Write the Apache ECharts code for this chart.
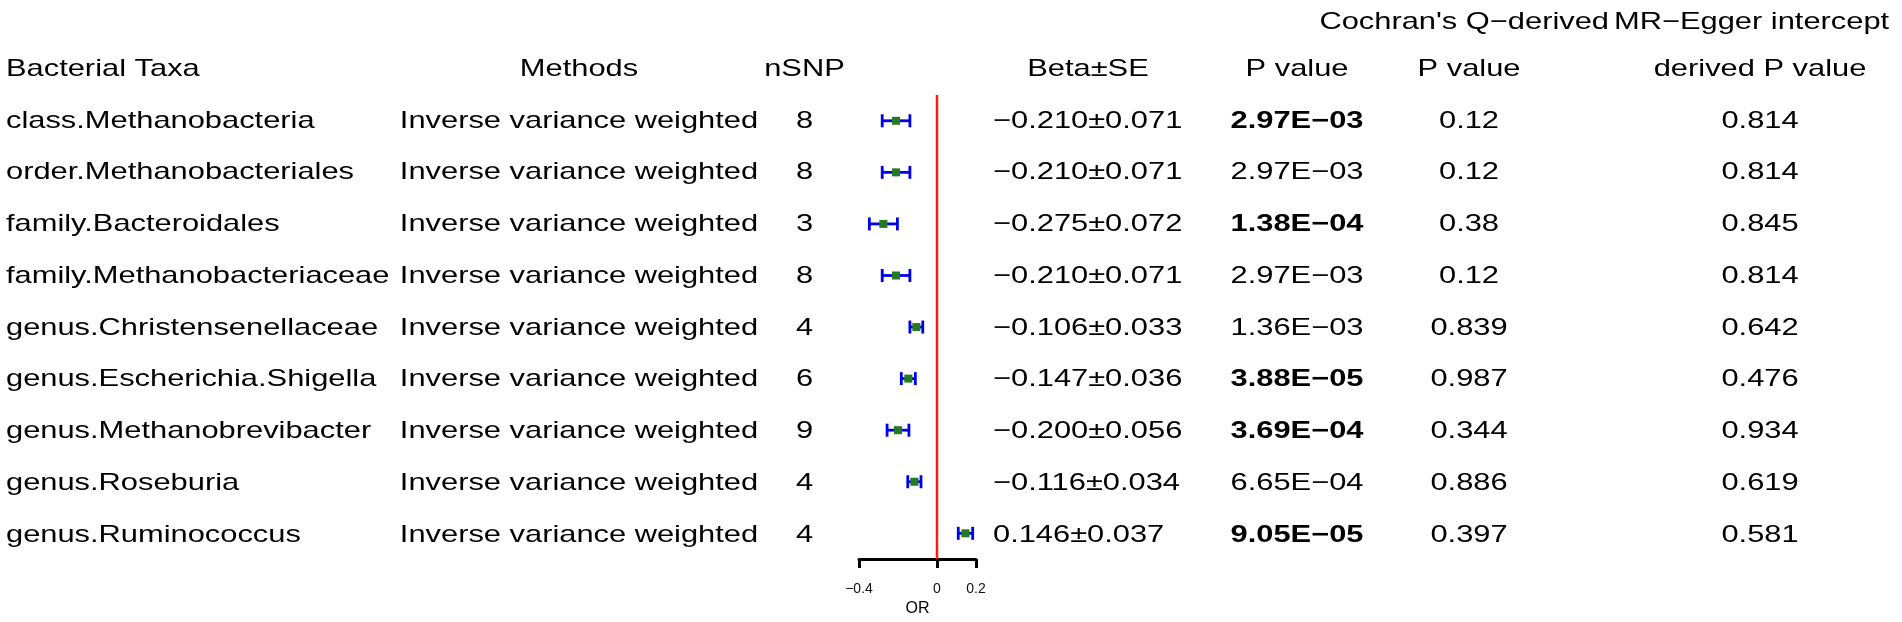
<!DOCTYPE html>
<html>
<head>
<meta charset="utf-8">
<script src="https://cdn.jsdelivr.net/npm/echarts@6/dist/echarts.min.js"></script>
<style>
  html, body { margin: 0; padding: 0; background: #fff; }
  #chart { width: 1902px; height: 622px; }
</style>
</head>
<body>
<div id="chart"></div>
<script>
// ---- data ----
const taxa = [
  "class.Methanobacteria",
  "order.Methanobacteriales",
  "family.Bacteroidales",
  "family.Methanobacteriaceae",
  "genus.Christensenellaceae",
  "genus.Escherichia.Shigella",
  "genus.Methanobrevibacter",
  "genus.Roseburia",
  "genus.Ruminococcus",
];
const methods = taxa.map(() => "Inverse variance weighted");
const nSnp = [8, 8, 3, 8, 4, 6, 9, 4, 4];
const beta = [-0.210, -0.210, -0.275, -0.210, -0.106, -0.147, -0.200, -0.116, 0.146];
const se = [0.071, 0.071, 0.072, 0.071, 0.033, 0.036, 0.056, 0.034, 0.037];
const pValue = ["2.97E−03", "2.97E−03", "1.38E−04", "2.97E−03", "1.36E−03", "3.88E−05", "3.69E−04", "6.65E−04", "9.05E−05"];
const pBold = [true, false, true, false, false, true, true, false, true];
const cochranP = ["0.12", "0.12", "0.38", "0.12", "0.839", "0.987", "0.344", "0.886", "0.397"];
const eggerP = ["0.814", "0.814", "0.845", "0.814", "0.642", "0.476", "0.934", "0.619", "0.581"];

const headers = ["Bacterial Taxa", "Methods", "nSNP", "Beta±SE", "P value", "P value", "derived P value"];
const superHeaders = ["Cochran's Q−derived", "MR−Egger intercept"];
const orTicks = [-0.4, 0, 0.2];
const refLine = 0;

// ---- layout ----
const FONT = "'Liberation Sans', Arial, sans-serif";
const FS = 24;
const SX = 1.285;   // text in the figure is stretched horizontally
const ROW_TOP = 95, ROW_H = 466;

// column anchors in table pixel units: [x, align]
const cols = {
  taxa: [6, "left"],
  method: [579, "center"],
  nsnp: [804.5, "center"],
  beta: [993, "left"],
  betaHead: [1088, "center"],
  pval: [1297, "center"],
  cochran: [1469, "center"],
  egger: [1760, "center"],
};
const headerCols = ["taxa", "method", "nsnp", "betaHead", "pval", "cochran", "egger"];
const superCols = [[1609, "right"], [1614, "left"]];
const SUPER_ROW = -1.91, HEAD_ROW = -1;

const fmt = (v) => (v < 0 ? "−" : "") + Math.abs(v).toFixed(3);
const betaText = beta.map((b, i) => fmt(b) + "±" + se[i].toFixed(3));

function textCell(p, text, align, bold) {
  return {
    type: "text",
    x: p[0],
    y: p[1],
    scaleX: SX,
    style: {
      text: text,
      fontFamily: FONT,
      fontSize: FS,
      fontWeight: bold ? "bold" : "normal",
      fill: "#000",
      align: align,
      verticalAlign: "middle",
    },
  };
}

function textColumn(key, values, bold) {
  const [x, align] = cols[key];
  return {
    type: "custom",
    xAxisIndex: 0,
    yAxisIndex: 0,
    clip: false,
    silent: true,
    data: values.map((v, i) => [x, i]),
    renderItem: (params, api) => {
      const i = params.dataIndex;
      const p = api.coord([api.value(0), api.value(1)]);
      return textCell(p, String(values[i]), align, bold ? bold[i] : false);
    },
  };
}

const headerCells = headerCols.map((k, i) => ({ x: cols[k][0], row: HEAD_ROW, text: headers[i], align: cols[k][1] }))
  .concat(superHeaders.map((t, i) => ({ x: superCols[i][0], row: SUPER_ROW, text: t, align: superCols[i][1] })));

const chart = echarts.init(document.getElementById("chart"));

chart.setOption({
  animation: false,
  backgroundColor: "#fff",
  grid: [
    { left: 0, right: 0, top: ROW_TOP, height: ROW_H },
    { left: 859, width: 117, top: ROW_TOP, height: ROW_H },
  ],
  xAxis: [
    { gridIndex: 0, type: "value", min: 0, max: 1902, show: false },
    {
      gridIndex: 1,
      type: "value",
      min: -0.4,
      max: 0.2,
      name: "OR",
      nameLocation: "middle",
      nameGap: 40,
      nameTextStyle: { color: "#000", fontSize: 16, fontFamily: FONT },
      axisLine: { onZero: false, lineStyle: { color: "#000", width: 3 } },
      axisTick: { customValues: orTicks, length: 9, lineStyle: { color: "#000", width: 3 } },
      axisLabel: {
        customValues: orTicks,
        margin: 23,
        color: "#111",
        fontSize: 14,
        fontFamily: FONT,
        formatter: (v) => (v < 0 ? "−" : "") + Math.abs(v),
      },
      splitLine: { show: false },
    },
  ],
  yAxis: [
    { gridIndex: 0, type: "value", min: -0.5, max: 8.5, inverse: true, show: false },
    { gridIndex: 1, type: "value", min: -0.5, max: 8.5, inverse: true, show: false },
  ],
  series: [
    // reference line at 0
    {
      type: "line",
      xAxisIndex: 1,
      yAxisIndex: 1,
      symbol: "none",
      silent: true,
      lineStyle: { color: "#ff1a1a", width: 2.5 },
      data: [[refLine, -0.5], [refLine, 8.5]],
    },
    // estimate ± SE
    {
      type: "custom",
      xAxisIndex: 1,
      yAxisIndex: 1,
      clip: false,
      silent: true,
      data: beta.map((b, i) => [b, i, se[i]]),
      renderItem: (params, api) => {
        const b = api.value(0), row = api.value(1), s = api.value(2);
        const lo = api.coord([b - s, row]);
        const hi = api.coord([b + s, row]);
        const c = api.coord([b, row]);
        const blue = { stroke: "#0000ee", lineWidth: 2.8 };
        return {
          type: "group",
          children: [
            { type: "line", shape: { x1: lo[0], y1: lo[1], x2: hi[0], y2: hi[1] }, style: blue },
            { type: "line", shape: { x1: lo[0], y1: lo[1] - 6.5, x2: lo[0], y2: lo[1] + 6.5 }, style: blue },
            { type: "line", shape: { x1: hi[0], y1: hi[1] - 6.5, x2: hi[0], y2: hi[1] + 6.5 }, style: blue },
            { type: "rect", shape: { x: c[0] - 4, y: c[1] - 4, width: 8, height: 8 }, style: { fill: "#237a23" } },
          ],
        };
      },
    },
    textColumn("taxa", taxa),
    textColumn("method", methods),
    textColumn("nsnp", nSnp),
    textColumn("beta", betaText),
    textColumn("pval", pValue, pBold),
    textColumn("cochran", cochranP),
    textColumn("egger", eggerP),
    // header rows
    {
      type: "custom",
      xAxisIndex: 0,
      yAxisIndex: 0,
      clip: false,
      silent: true,
      data: headerCells.map((h) => [h.x, h.row]),
      renderItem: (params, api) => {
        const h = headerCells[params.dataIndex];
        const p = api.coord([api.value(0), api.value(1)]);
        return textCell(p, h.text, h.align, false);
      },
    },
  ],
});
</script>
</body>
</html>
